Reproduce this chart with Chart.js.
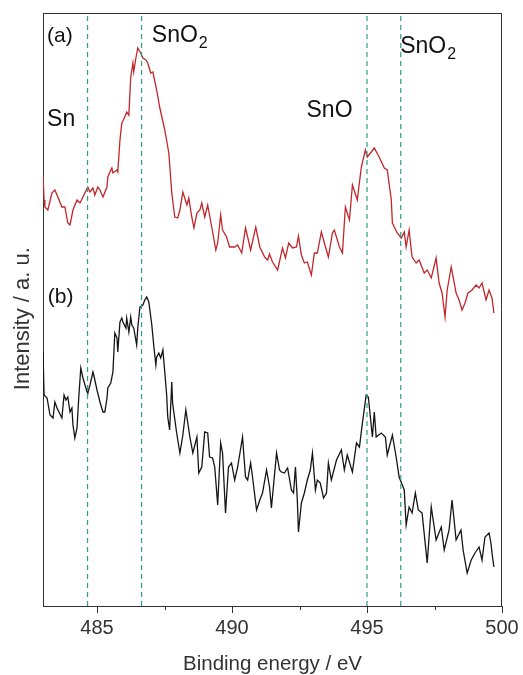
<!DOCTYPE html>
<html><head><meta charset="utf-8">
<script src="https://cdn.jsdelivr.net/npm/chart.js@4"></script>
<style>html,body{margin:0;padding:0;background:#fff}</style>
</head><body>
<canvas id="c" width="523" height="675"></canvas>
<script>
// ---- data (binding energy in eV, intensity in a.u.) ----
const energyA = [483.00,483.04,483.07,483.18,483.33,483.44,483.55,483.70,483.81,483.92,484.00,484.11,484.26,484.37,484.48,484.55,484.66,484.74,484.85,484.92,485.03,485.11,485.22,485.37,485.40,485.48,485.55,485.59,485.74,485.77,485.85,485.92,486.03,486.10,486.18,486.25,486.33,486.36,486.44,486.51,486.55,486.62,486.70,486.81,486.88,486.99,487.07,487.21,487.32,487.51,487.66,487.77,487.88,487.99,488.07,488.18,488.33,488.40,488.51,488.59,488.70,488.81,488.88,488.99,489.10,489.25,489.40,489.47,489.58,489.65,489.80,489.91,490.10,490.21,490.36,490.50,490.58,490.69,490.88,491.03,491.21,491.32,491.39,491.50,491.69,491.87,491.98,492.10,492.24,492.39,492.46,492.57,492.68,492.79,492.94,493.05,493.16,493.31,493.42,493.57,493.72,493.79,493.98,494.09,494.20,494.35,494.46,494.64,494.79,494.94,495.01,495.16,495.27,495.45,495.64,495.75,495.90,495.94,496.12,496.27,496.38,496.45,496.56,496.67,496.82,496.93,497.12,497.23,497.38,497.56,497.67,497.78,497.89,497.97,498.12,498.30,498.41,498.52,498.63,498.74,498.89,499.04,499.15,499.26,499.41,499.52,499.63,499.70];
const intensityA = [86.2,81.2,79.8,79.2,82.6,83.2,81.8,79.8,79.8,76.6,76.2,79.2,81.2,80.6,81.8,82.6,83.8,82.8,83.6,82.2,83.8,83.2,81.8,83.8,85.8,86.8,87.6,86.6,87.2,86.8,93.2,96.6,97.8,98.8,98.2,105.8,108.6,106.8,109.6,111.6,111.2,110.6,109.6,109.2,108.6,106.6,106.8,103.2,99.8,95.2,90.6,82.6,77.8,77.6,79.2,82.8,80.2,81.6,77.8,75.6,78.6,79.2,80.6,77.8,80.2,75.8,71.2,72.6,78.2,75.2,73.8,71.8,71.8,72.2,70.6,75.6,73.8,71.2,75.8,71.8,69.8,69.2,70.4,68.8,67.2,71.6,69.6,72.6,71.6,71.8,74.0,70.2,68.6,68.8,66.2,70.6,70.6,74.8,72.6,69.8,74.6,75.2,71.8,70.6,79.8,77.2,84.2,81.2,87.8,91.2,89.8,90.8,91.6,89.8,87.6,87.2,81.2,76.6,74.6,73.6,74.8,71.8,75.2,69.8,68.6,69.2,66.6,67.2,65.6,69.6,64.6,62.6,57.8,63.2,67.8,62.6,61.2,59.2,60.6,62.6,63.2,64.2,63.6,64.6,61.2,63.2,61.6,58.6];

const energyB = [483.00,483.04,483.15,483.26,483.37,483.44,483.52,483.59,483.70,483.78,483.85,483.92,484.00,484.07,484.11,484.18,484.26,484.33,484.40,484.48,484.63,484.66,484.74,484.85,484.88,485.00,485.11,485.22,485.29,485.37,485.40,485.51,485.59,485.66,485.74,485.77,485.85,485.92,485.96,486.07,486.10,486.18,486.25,486.29,486.36,486.47,486.51,486.59,486.70,486.77,486.84,486.92,487.03,487.10,487.18,487.21,487.29,487.36,487.44,487.51,487.58,487.62,487.69,487.77,487.80,487.95,488.07,488.18,488.29,488.44,488.55,488.70,488.77,488.88,488.99,489.10,489.17,489.28,489.36,489.47,489.58,489.65,489.76,489.87,489.98,490.10,490.21,490.39,490.50,490.58,490.69,490.76,490.91,491.03,491.13,491.28,491.39,491.46,491.65,491.76,491.83,491.94,492.06,492.20,492.28,492.35,492.42,492.46,492.57,492.68,492.79,492.90,492.98,493.09,493.16,493.27,493.39,493.50,493.57,493.68,493.87,494.05,494.16,494.27,494.46,494.61,494.72,494.83,494.97,495.05,495.20,495.27,495.34,495.53,495.68,495.75,495.94,496.08,496.19,496.38,496.45,496.56,496.67,496.79,496.90,497.04,497.23,497.38,497.56,497.75,497.86,498.04,498.15,498.30,498.48,498.56,498.71,498.86,499.00,499.15,499.26,499.37,499.52,499.59,499.63,499.70];
const intensityB = [50.8,42.2,41.6,38.2,37.6,40.8,39.6,38.8,37.6,42.2,41.2,41.8,38.8,39.6,36.2,33.6,35.6,42.2,47.6,45.6,42.8,42.6,44.2,46.8,46.2,43.2,40.8,38.8,38.8,41.6,43.6,44.6,46.8,54.6,53.6,50.8,56.8,57.6,56.8,55.6,57.6,54.8,57.8,56.2,55.6,52.2,55.6,59.8,60.2,61.2,61.8,60.8,56.2,52.2,48.2,49.8,50.6,49.6,51.2,46.8,42.2,37.8,35.2,44.8,40.6,34.6,30.6,34.2,39.2,33.8,30.6,33.8,26.6,27.8,34.8,34.6,29.8,29.6,27.8,20.2,32.6,30.6,18.6,27.8,28.6,25.2,27.8,33.8,25.8,25.2,28.6,25.8,19.2,21.2,22.6,27.2,23.8,19.6,30.6,27.2,26.8,26.6,27.6,23.2,22.6,27.8,21.2,14.8,20.6,22.6,25.2,27.2,30.6,23.2,25.2,24.6,21.6,22.6,28.6,25.2,29.2,31.2,27.2,30.2,26.8,32.6,31.8,36.6,42.2,41.8,33.8,38.8,33.8,34.6,33.8,30.2,34.2,29.8,25.8,23.2,16.2,19.8,18.6,22.6,19.2,18.6,8.6,19.8,13.2,15.8,11.2,15.2,21.2,13.2,15.2,11.2,6.6,9.2,10.6,11.8,9.2,13.8,14.6,12.6,10.6,7.8];

const markerEnergies = [484.65, 486.65, 495.0, 496.25];
const xTickValues = [485, 490, 495, 500];
const xTickLabels = ['485', '490', '495', '500'];
const xMinorTicks = [487.5, 492.5, 497.5];
const xRange = [483, 500];
const yRange = [0, 118.6];

const labelTexts = ['(a)', 'SnO', 'Sn', 'SnO', 'SnO', '(b)'];
const labelSubs  = ['', '2', '', '', '2', ''];
const labelEnergies = [483.15, 487.03, 483.15, 492.76, 496.23, 483.18];
const labelIntensities = [114.0, 114.0, 97.2, 99.0, 111.8, 61.8];

// ---- build datasets ----
const toPts = (xs, ys) => xs.map((x, i) => ({x: x, y: ys[i]}));
const datasets = [];
markerEnergies.forEach(e => datasets.push({
  data: [{x: e, y: yRange[0]}, {x: e, y: yRange[1]}],
  borderColor: '#2f9e86', borderWidth: 1.2, borderDash: [5, 4], pointRadius: 0
}));
datasets.push({data: toPts(energyA, intensityA), borderColor: '#c0272d', borderWidth: 1.3, pointRadius: 0, tension: 0});
datasets.push({data: toPts(energyB, intensityB), borderColor: '#151515', borderWidth: 1.3, pointRadius: 0, tension: 0});

const FONT = '"Liberation Sans", Arial, sans-serif';
const decor = {
  id: 'decor',
  afterDraw(chart) {
    const {ctx, chartArea: a, scales: {x, y}} = chart;
    ctx.save();
    ctx.strokeStyle = '#333'; ctx.lineWidth = 1;
    ctx.beginPath();
    ctx.moveTo(a.left, a.top + 0.5); ctx.lineTo(a.right, a.top + 0.5);
    ctx.moveTo(a.right - 0.5, a.top); ctx.lineTo(a.right - 0.5, a.bottom);
    xMinorTicks.forEach(v => {
      const px = Math.round(x.getPixelForValue(v)) + 0.5;
      ctx.moveTo(px, a.bottom); ctx.lineTo(px, a.bottom + 4);
    });
    ctx.stroke();
    ctx.fillStyle = '#111';
    ctx.textBaseline = 'middle'; ctx.textAlign = 'left';
    labelTexts.forEach((t, i) => {
      const px = x.getPixelForValue(labelEnergies[i]);
      const py = y.getPixelForValue(labelIntensities[i]);
      const big = t.charAt(0) !== '(';
      ctx.font = (big ? '23px ' : '21px ') + FONT;
      ctx.fillText(t, px, py);
      if (labelSubs[i]) {
        const w = ctx.measureText(t).width;
        ctx.font = '16px ' + FONT;
        ctx.fillText(labelSubs[i], px + w + 1, py + 8);
      }
    });
    ctx.restore();
  }
};

new Chart(document.getElementById('c'), {
  type: 'line',
  data: {datasets},
  options: {
    responsive: false, animation: false, devicePixelRatio: 1,
    layout: {padding: {left: 0, right: 21, top: 13, bottom: 0}},
    plugins: {legend: {display: false}, tooltip: {enabled: false}},
    scales: {
      x: {
        type: 'linear', min: xRange[0], max: xRange[1],
        afterBuildTicks: s => { s.ticks = xTickValues.map(v => ({value: v})); },
        afterFit: s => { s.height = 69; },
        ticks: {
          callback: (v) => { const i = xTickValues.indexOf(v); return i >= 0 ? xTickLabels[i] : ''; },
          color: '#333', padding: 3, maxRotation: 0,
          font: {family: FONT, size: 20}
        },
        grid: {drawOnChartArea: false, drawTicks: true, tickLength: 7, color: '#333'},
        border: {display: true, color: '#333', width: 1},
        title: {display: true, text: 'Binding energy / eV', color: '#333',
          padding: {top: 0, bottom: 0},
          font: {family: FONT, size: 20.5, lineHeight: 1.0}}
      },
      y: {
        min: yRange[0], max: yRange[1],
        afterFit: s => { s.width = 43; },
        ticks: {display: false},
        grid: {display: false},
        border: {display: true, color: '#333', width: 1},
        title: {display: true, text: 'Intensity / a. u.   ', color: '#333',
          padding: {top: 10, bottom: 0},
          font: {family: FONT, size: 22}}
      }
    }
  },
  plugins: [decor]
});
</script>
</body></html>
